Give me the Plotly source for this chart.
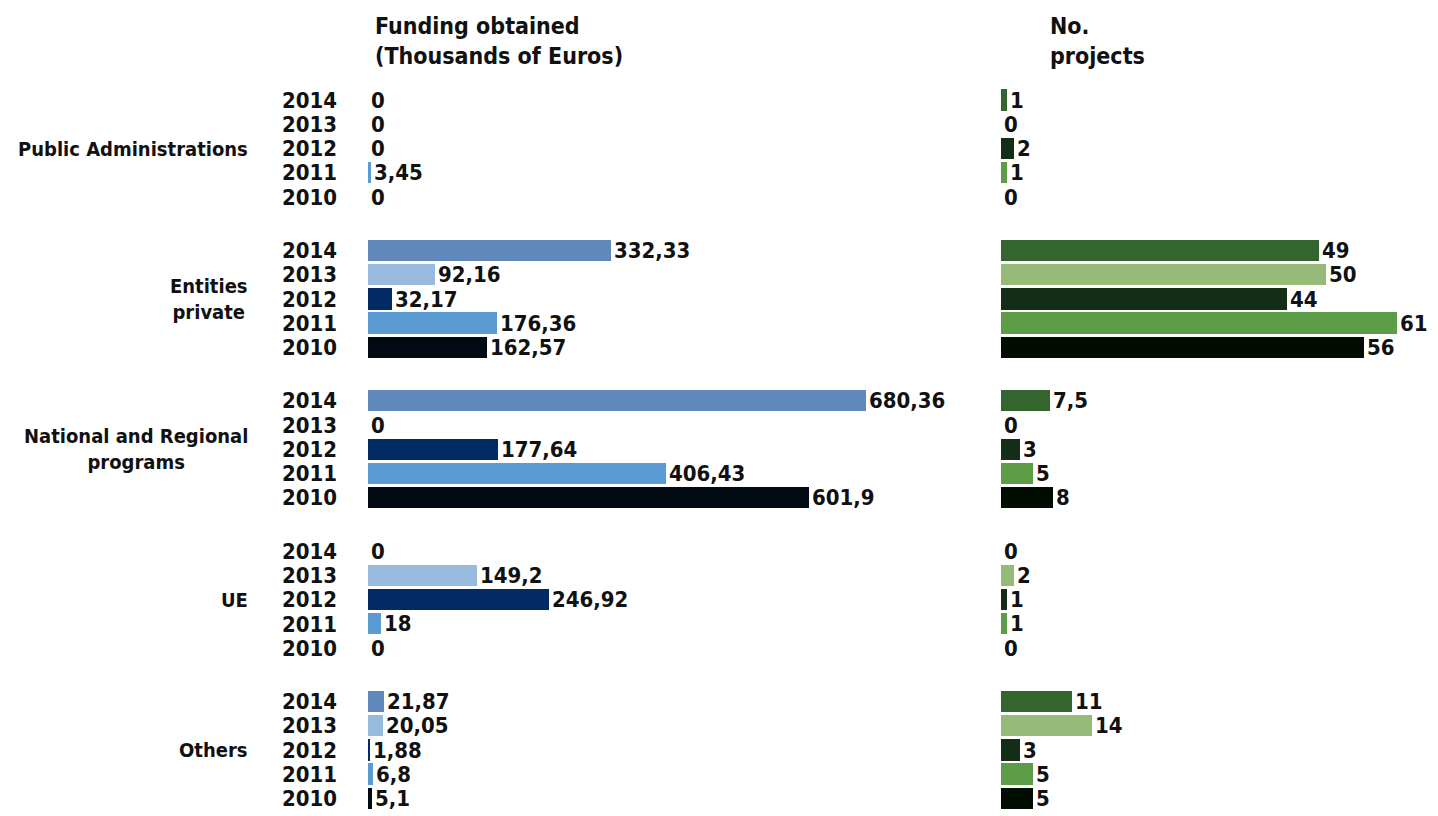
import plotly.graph_objects as go
from plotly.subplots import make_subplots

groups = ["Public Administrations", "Entities<br>private", "National and Regional<br>programs", "UE", "Others"]
years = ["2014", "2013", "2012", "2011", "2010"]

# funding obtained (thousands of euros), per year, in group order
funding = {
    "2014": [0, 332.33, 680.36, 0, 21.87],
    "2013": [0, 92.16, 0, 149.2, 20.05],
    "2012": [0, 32.17, 177.64, 246.92, 1.88],
    "2011": [3.45, 176.36, 406.43, 18, 6.8],
    "2010": [0, 162.57, 601.9, 0, 5.1],
}
# number of projects, per year, in group order
projects = {
    "2014": [1, 49, 7.5, 0, 11],
    "2013": [0, 50, 0, 2, 14],
    "2012": [2, 44, 3, 1, 3],
    "2011": [1, 61, 5, 1, 5],
    "2010": [0, 56, 8, 0, 5],
}

blues = {"2014": "#6088BA", "2013": "#98BADD", "2012": "#032B63", "2011": "#5B9BD3", "2010": "#020A14"}
greens = {"2014": "#35652E", "2013": "#96BB78", "2012": "#132D16", "2011": "#5E9D47", "2010": "#020D02"}

FONT = "Liberation Sans Narrow, DejaVu Sans Condensed, sans-serif"
FS = 22
INK = "#111111"

# page is offset 8px by the default body margin
OFF = 8
W, H = 1438 - OFF, 816 - OFF
GROUP_STEP = 6.2


def fmt(v):
    return f"{v:g}".replace(".", ",")


def pos(g, r):
    return g * GROUP_STEP + r


def px(x):
    # page pixel -> paper fraction
    return (x - OFF) / W


fig = make_subplots(rows=1, cols=2, shared_yaxes=True, horizontal_spacing=0)

for r, yr in enumerate(years):
    ys = [pos(g, r) for g in range(len(groups))]
    fig.add_trace(go.Bar(
        x=funding[yr], y=ys, orientation="h", width=0.88,
        marker=dict(color=blues[yr], line_width=0),
        text=[fmt(v) for v in funding[yr]], textposition="outside",
        constraintext="none", cliponaxis=False, showlegend=False, name=yr), row=1, col=1)
    fig.add_trace(go.Bar(
        x=projects[yr], y=ys, orientation="h", width=0.88,
        marker=dict(color=greens[yr], line_width=0),
        text=[fmt(v) for v in projects[yr]], textposition="outside",
        constraintext="none", cliponaxis=False, showlegend=False, name=yr), row=1, col=2)

fig.update_traces(textfont=dict(family=FONT, size=FS, color=INK, weight="bold"))

tickvals = [pos(g, r) for g in range(len(groups)) for r in range(len(years))]
ticktext = [yr for g in range(len(groups)) for yr in years]

top, bottom = 75 - OFF, 5
px_per_row = 24.25
y_first = 100 - OFF
y_range = [(H - bottom - y_first) / px_per_row, (top - y_first) / px_per_row]
plot_h = H - top - bottom

fig.update_yaxes(range=y_range, tickvals=tickvals, ticktext=ticktext,
                 showgrid=False, zeroline=False, showline=False,
                 tickfont=dict(family=FONT, size=FS, color=INK, weight="bold"))
fig.update_yaxes(ticklabelstandoff=30, row=1, col=1)
fig.update_yaxes(showticklabels=False, row=1, col=2)

fig.update_xaxes(showgrid=False, zeroline=False, showline=False, showticklabels=False)
fig.update_xaxes(domain=[px(368), px(995)], range=[0, (995 - 368) / 0.732], row=1, col=1)
fig.update_xaxes(domain=[px(1001), 1.0], range=[0, (1438 - 1001) / 6.49], row=1, col=2)

group_font = dict(family=FONT, size=20, color=INK, weight="bold")
title_font = dict(family=FONT, size=23, color=INK, weight="bold")
annotations = []
for g, name in enumerate(groups):
    annotations.append(dict(
        x=px(250), xref="paper", xanchor="right", align="center",
        y=pos(g, 2), yref="y", yanchor="middle", showarrow=False, text=name,
        font=group_font))

title_y = (H - bottom - 3) / plot_h
annotations.append(dict(
    x=px(373), xref="paper", xanchor="left", align="left",
    y=title_y, yref="paper", yanchor="top", showarrow=False,
    text="Funding obtained<br>(Thousands of Euros)", font=title_font))
annotations.append(dict(
    x=px(1048), xref="paper", xanchor="left", align="left",
    y=title_y, yref="paper", yanchor="top", showarrow=False,
    text="No.<br>projects", font=title_font))

fig.update_layout(
    width=W, height=H, autosize=False,
    margin=dict(l=0, r=0, t=top, b=bottom),
    paper_bgcolor="white", plot_bgcolor="white",
    barmode="overlay", bargap=0,
    font=dict(family=FONT, size=FS, color=INK),
    annotations=annotations,
)

fig.write_html("out.html")
